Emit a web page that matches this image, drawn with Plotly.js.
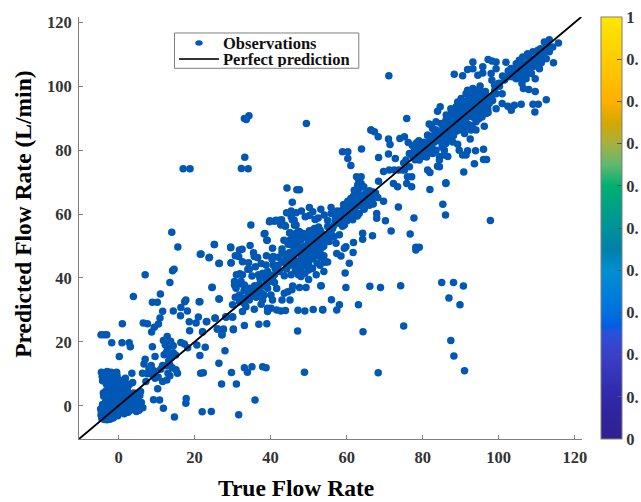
<!DOCTYPE html>
<html>
<head>
<meta charset="utf-8">
<script src="https://cdn.plot.ly/plotly-3.0.1.min.js"></script>
<style>html,body{margin:0;padding:0;background:#fff;overflow:hidden}#chart{width:641px;height:502px}</style>
</head>
<body>
<div id="chart"></div>
<script>
// [true, predicted] pairs
var lowCluster = [[-4.5,10.5],[-4.3,9.2],[-3,10.7],[-2.6,9.5],[-2,10.5],[-1.5,9],[-0.5,10.5],[-0.4,9.4],[-3,8],[-2,7.5],[-1,6.8],[-0.6,8],[0.5,8],[1.2,7.5],[2,7],[-3.2,6.8],
[-4,4],[-3,3.5],[-2.5,4.2],[-1.5,3.5],[-0.8,4.1],[0.8,5],[1.5,4],[2.5,4],[3,3.2],[4,4],[5.8,4.5],[5.6,3.2],[-2,3],[-1,2.5],[0,3],[1,2.5],[2,2],[3.5,2],[5,2],[6,1],[5,0.5],[6.4,-0.6],
[-4.2,0.4],[-3.5,0],[-2.5,0.5],[-1.5,1],[-1,0],[-0.3,0.5],[0.5,0.5],[1.5,0.3],[2.5,0.5],[3.5,0],[4.5,-1],[3,-1.5],[1.5,-1.5],[0.5,-1.5],[-0.5,-1.5],
[-4.7,-1],[-4.5,-2],[-4.6,-3],[-4.4,-4],[-3.7,-4.3],[-3,-4.4],[-2.2,-4.2],[-1.4,-3.8],[-0.8,-3],[-3.8,-3.2],[-3,-3],[-2.2,-3],[-1.5,-2.5],[-3.8,-2],[-3,-1.8],[-2.2,-1.7],[-1.2,-1.2],[-3.7,-1],[-2.8,-0.7],[-1.8,-0.5],[0,-2.3],[1.5,-2.5],[2.5,-2],[4.7,-1.8],
[-2.8,2],[-1.8,2],[-3.4,1.2],[-0.3,1.8],[1,1.2],[2.8,1.2],[4.2,1],[-1,5.5],[0,5],[-2,5.8],[2.3,5.5],
[-3.6,9.8],[-1.2,10.2],[-2.2,8.6],[-3.5,7.6],[-1.6,6.2],[0.2,6.6],[1.8,8.6],[-2.7,5.2],[-0.4,3.4],[0.4,4.2],[1.4,2.9],[2.3,3.1],[3.4,3.6],[4.7,3],[-1.3,1.6],[0.2,1.4],[1.9,1],[3.4,0.8],[4.4,0.2],[-0.5,-0.6],[1,-0.6],[2.2,-0.7],[3.7,-0.9],[-0.2,-3.1],[0.9,-2],[5.4,-1.4],[-3.3,4.7],[-3.9,3],[2.8,6.6],[0.9,6.3],[-4.2,7.8],[-1.1,4.6],[-2.1,1.1]];
var lowSparse = [[3.9,34.2],[7,41],[11,35],[13.5,38.6],[14.2,42.3],[14.6,42.7],[21.5,47.4],[23.8,46.3],[26.4,44.5],[29.6,44.7],[24.6,37],[21.2,32.6],[26.4,33.4],[17.7,33.1],[17.4,32.6],[8.9,32.4],[10.2,32.4],[11.6,29.6],[14.4,29.7],[16.4,30.8],[16.3,28.2],[18.1,29.7],[10.9,27.5],[21,27.8],[25.4,27.4],[28.2,27.9],[30,27.9],[1,25.7],[6.5,25.9],[7.6,25.7],[10.5,25.6],[9.4,24.6],[8.7,23.1],[18.6,26.3],[20.4,25.9],[23.1,26.3],[18.7,23.5],[22.1,23.1],[26,24],[27.5,23.8],[27.2,22.2],[30.2,23.8],[-4.6,22.2],[-3.8,22.2],[-3.1,22.2],[-1.8,19.7],[0.9,19.7],[2.8,19.7],[3.1,18.5],[8.9,18.5],[0.2,15.4],[9.6,15.4],[11.8,20.4],[12.8,21.7],[12.3,19.1],[12.9,18],[12.7,17],[13.3,15.9],[13.8,15.2],[14.4,18.8],[15,15.9],[16.4,19.8],[17.3,19.3],[18.2,18.2],[20.6,19],[22.8,18.3],[21.4,15.7],[28,17.2],[7,14.6],[6.7,13.1],[8.6,12.6],[11.6,12.6],[12.5,12.5],[13.5,12.8],[26.4,13.3],[33.1,11.9],[33.9,10.5],[35.1,12.2],[37.9,12.2],[38.8,11.9],[48.9,10.5],[29.7,10.4],[21.6,10.2],[22.3,10.3],[27.1,6.8],[31,6.8],[15.1,11.3],[15.5,10.2],[13.5,9.4],[11.6,7.6],[12.7,8.1],[9.6,8.6],[10.3,5.3],[6.3,10.2],[7.6,10],[8.9,9.7],[7.2,7.6],[3.5,10.2],[3.7,7.3],[9.2,1.9],[10.8,1.8],[11.8,-0.8],[17.8,2.3],[17.7,0.8],[14.7,-3.5],[22,-1.9],[24.4,-1.8],[31.6,-2.8],[35.9,1.8],
[8,11.5],[9.3,11],[10.4,9],[11.1,11.4],[13,10.2],[14.1,11.9],[13.2,14],[14.4,16.6],[12,16],[13.7,20.2]];
var midCluster = [[39.7,57.6],[41,57.8],[42.3,58.1],[44.2,60.4],[46.7,60.4],[49.1,59.2],[51.1,60.7],[51.7,58.3],[45.4,59.2],[46.2,58.1],[46.7,56.6],[42.7,56.6],[43.9,56.2],[51.5,55.5],[38.3,53.8],[39,51.8],[45.1,54.2],[50.2,54.8],[47.6,54.5],[46.7,54],[25.2,50.5],[29.5,49.5],[34.6,50.2],[32.5,49],[31.8,48.75],[30.7,47],[40.5,49.3],[43,49.1],[45.6,50.3],[21.7,47.5],[23.9,46.5],[26.5,44.6],[29.6,44.8],[31.6,46.7],[32.6,45.1],[34.2,44.8],[35.5,47.9],[36.6,46.4],[35.7,46.7],[34,42.7],[31.9,41.3],[31,41],[32.6,41],[34.4,42.7],[38.8,44.1],[40.7,46.7],[40.4,45.8],[39.2,42],[37.9,41.5],[36.8,41],[35.1,40.6],[40.7,44.1],[41.2,43],[39.7,41],[38.3,39.9],[37.2,39.9],[30.5,38.9],[30.5,37.8],[32.2,39],[32.2,38.1],[33.1,37.8],[24.6,37.1],[30.9,36.8],[34.4,36.8],[35.7,36.3],[36.6,37.5],[38.3,37.5],[39.2,36.8],[41.6,36.7],[45.8,37.5],[47.6,37],[49.3,37],[53.3,37.6],[44.5,35.7],[45.6,36.3],[43.6,35.2],[43,33.1],[45.1,33.1],[40.5,33.1],[38.3,34.7],[40.1,34.7],[37.9,33.1],[26.5,33.4],[21.4,32.6],[30.7,34],[31.8,34.7],[32.6,33.7],[33.9,33.7],[34.8,34.7],[36.2,34],[31.8,32.6],[33.1,32],[34.4,33.1],[35.7,30.2],[30,31.6],[32.6,29.5],[33.5,31],[39.2,30.5],[40.1,30.5],[39.2,29.5],[41.6,30],[42.7,29.7],[43.9,29.8],[47.2,29.9],[49,29.7],[51.2,30.1],[53.7,30.1],[37.5,31.8],[30,27.7],[28.3,27.7],[33.1,25.1],[36.9,25.5],[39,25.7],[47.1,23.4],[30.2,24],[25.4,27.5],[23.2,26.4],[27.6,24],[26,24],[27.2,22.2],[22.1,23.2],
[46,47],[47,48],[48,49],[49,50],[50,51],[51,52],[52,53],[46,50],[47,51],[48,52],[49,53],[50,54],[51,54.5],[47,45],[48,46],[49,47],[50,48],[51,49],[52,50],[53,51],[45,48],[44,46],[43,45],[44,44.5],[45,44],[46,44],[47,43],[48,43],[49,44],[50,45],[51,46],[52,47],[53,48],[54,50],[54,47],[49,41.5],[50,42.5],[48,40.5],[50,39.5],[52,41],[54,42],[53,44],[51,43],[47.3,41],[43,48],[42,46.5],[42,44],[55,45],[55,53],[53,55],[41,41],[40,39],[37,38],[35,35.5],[33,33],[37,36],[39,39],
[14,54.3],[15.6,49.7],[25.2,50.5],[29.5,49.7],[34.8,56.6],[17,74.2],[18.8,74.2],[32.3,74.3],[34.1,74.2],[33.2,77.8],[33.1,89.9],[33.6,89.6],[34.3,90.8],[49.4,88.4],[44.3,68.2],[46.9,67.6],[47.6,67.6],[45.7,63.7],[50.2,62.1],[45.4,61],[48.1,61],[50.2,59.6],[52.5,58.8],[52.6,56],[39.8,57.9],[41.4,58.1],[42.9,58.2],[42.6,57],[43.7,56.5],[38.5,53.9],[39.1,51.8],[43.5,51.8],[45.7,58.2],[46.3,56.5],[45,54.1],[47.3,54.6],[50.4,54.6],
[45.3,46.2],[46.5,48.6],[47.6,49.8],[48.4,47.6],[49.6,49.4],[50.6,49.9],[51.6,50.6],[52.6,51.8],[46.2,52.4],[47.4,53],[48.6,53.9],[49.7,52.4],[50.8,53.1],[52.4,54.5],[44.6,50.6],[45.2,52],[43.8,47.4],[44.7,45.4],[46.3,45.5],[47.6,44.1],[49.2,45.6],[50.4,46.7],[51.5,47.8],[52.7,49],[53.6,49.6],[46.5,42.3],[48.3,44.8],[50.1,43.7],[52.2,44.7],[54.3,44.9],[53.4,46.3],[44.2,42.8],[42.4,42],[40.5,40.2],[43.6,40.7],[45.4,41],[35.8,37.6],[36.4,35],[34,35.5],[33,36],[37.6,35.2],[38.8,37.9],[41,38.6],[38.9,47],[36,43.5],[37.5,44.5]];
var upperMidCluster = [[66.4,86.3],[67.3,85.8],[68.3,84.2],[71,83.5],[71.4,81.8],[74,83.7],[75.2,84.2],[76.2,82.4],[63.9,80.4],[58.9,79.5],[60.3,79.5],[60.3,77.4],[61.1,75.2],[68.4,77.7],[71,78.8],[72.8,77.4],[69.7,73.3],[71.2,73.8],[72.5,73.8],[73.7,73.8],[74.7,73.8],[68.4,70.3],[62.6,71.7],[63.8,71.7],[63.8,69.6],[62.9,69.1],[62,67.5],[63.3,68],[62.9,66.5],[64.2,66],[66,67.3],[66.8,67],[67.3,65.4],[68.2,65.2],[66,65],[65.1,63.9],[61.1,64.9],[62,64.4],[63.3,64.4],[60.7,62.8],[62.4,62.8],[63.8,62.5],[66,62.8],[59.8,61.8],[58.9,61.3],[61.6,61.3],[63.3,60.2],[59.8,59.7],[58.1,60.2],[61.1,59.7],[55.9,62.1],[53.2,61.5],[55.9,60.2],[54.1,59.7],[57.2,59.2],[58.9,58.7],[60.7,59.2],[61.6,58.2],[58.1,57.1],[59.4,56.6],[69.7,64],[73.6,62.2],[67.9,60.2],[67.9,58.7],[70.2,57.9],[77.7,58.8],[71.7,54.7],[76.7,53.8],[66.8,53.2],[64.2,54],[64.2,52.1],[61.8,51.1],[59.8,49.8],[78.2,49.6],[79.1,49.6],[72.3,69.6],[73.4,68.6],[75.8,69.6],[77.1,71.7],[76,71.7],[77.1,68.6],[81.9,67.7],[86.1,69.6],[85.3,63.1],[86,59.7],[81.3,73.8],[81.9,73],[76.5,74.8],[75.2,73.8],[75.6,76.9],[76.5,79],[77.8,80],[78.7,80.5],[79.6,81],[77.4,78],[79.1,79],[79.1,76.9],[80.9,79.5],[82.6,79],[80,78],[81.7,80.5],[83.1,82.6],[81.3,84.7],[82.2,87.8],[84.4,85.2],[83.9,83.2],[83.5,80],[84.4,76.9],[84.4,74.8],[86.1,82.1],[85.7,78.5],[84.8,83.7],[54.6,53.5],[55.9,54],[56.7,52.9],[58.1,53.5],[55.4,51.4],[57.2,50.9],[59.4,49.3],[53.7,50.9],[54.1,52.4],[56.3,55.5],[55,56.1],[53.2,54.5],[55,58],[57,57.5],[59.5,60.5],[60.5,61],[62,60.5],[64.5,63.5],[65,65.5],[61,63],[63,65.5],[66.5,66],[78,77],[80.5,80.5],[82,83],[78,79],[75,76],
[57,58.4],[58.6,59.4],[60,60.6],[60.9,62],[62.2,61.6],[62.9,63.7],[64.1,64.9],[65,62.6],[65.2,66.8],[61.8,65.7],[60.3,64],[59.2,63],[57.5,61],[56.6,56.4],[58.9,56.2],[60.1,57.9],[62.8,59.4],[64.6,61.5],[66.6,64.1],[67,63.2],[64.5,68.6],[63.2,70.5],[67.6,66.6],[80.4,82.5],[81.2,81.6],[82.4,81.2],[83,84.8],[79,83],[77.3,81.5],[78.4,82.3],[83.7,85.6],[85.1,81],[79.9,79.8],[81,77.9]];
var highCluster = [[71.1,103.3],[75.8,89.9],[66.4,86.3],[112.5,95.8],[114.4,107.4],[115.7,113.6],[113.3,114.6],[112,113.9],[114.2,112.3],[112.5,112.8],[110.3,111.3],[111.6,109.2],[113.3,110.8],[107.6,110.2],[109,110.8],[106.3,109.2],[105.4,108.2],[104.6,107.1],[103.2,105.6],[104.1,104.5],[105.4,106.1],[107.2,107.1],[108.5,107.6],[109.8,108.7],[110.7,105.5],[109,106.1],[107.2,104.5],[105.4,103.5],[109.6,102.4],[107.2,102.4],[104.6,102.4],[106.1,100.9],[106.5,99.3],[107.9,99],[109.6,98.4],[101.9,107.5],[101,103.2],[99.3,105.5],[97.2,108.4],[98.2,107.9],[99.3,107.6],[95.8,106.1],[93.2,107.6],[91.8,105.3],[93.2,105.5],[94.5,103.5],[95.8,104.2],[88.3,103.8],[90.5,103.3],[98,104],[98.2,101.9],[98.9,100.3],[100.2,100],[99.3,97.7],[100.9,97.7],[98.4,95.6],[99.3,93],[100.9,94.6],[102.4,93.8],[103.3,92.5],[104.1,94.1],[105.9,94.4],[109,94.4],[110.4,94.4],[109.5,92],[96.2,87.5],[96.7,91.5],[94,86.3],[92.7,86.3],[92.5,83.5],[87.9,82.6],[89.2,81.9],[89.6,80],[90.5,78.5],[91.8,79.8],[93.9,79.8],[96,80.3],[91.4,78.5],[96,77.1],[96.8,77.1],[93.6,75.8],[90.8,73.2],[86.1,69.8],[84.6,93.6],[83.9,92.2],[81.7,88.2],[81.3,84.7],[84.4,78],[83.9,75],[86.6,78],[85.7,80],[91.8,98.8],[93.2,99.3],[95.1,100.1],[91.4,97.7],[89.2,95.1],[88.3,92.5],[87.4,90.4],[86.1,89.4],[84.8,88.4],[83.5,86.3],[94,98.8],[95.8,97.7],[96.7,96.7],[93.2,96.2],[90.1,94.1],[91.4,94.6],[94.9,94.6],[92.3,92.5],[94,93.6],[90.5,91.5],[89.2,89.9],[87.9,88.4],[86.6,86.8],[91.4,89.9],[93.2,90.4],[94.9,91],[89.6,87.8],[87.9,85.8],[91.4,87.3],[94,88.9],[95.8,93],[97.5,94.6],[97.1,93],[88.8,93.6],[90.1,96.2],[92.7,98.2],[94.9,96.7],[96.7,95.1],[91.4,92],[87.4,93],[88.8,91],[86.6,88.4],[85.3,86.8],[84.8,85.2],[83.1,84.2],[82.6,86.8],[83.5,88.9],[85.7,84.2],[87,84.7],[85.7,82.1],[88.8,86.8],[90.1,89.9],[92.7,93.6],[94,95.1],[91.8,95.6],[90.5,93],[95.8,95.1],[98,96.7],
[108,109],[106.5,107],[103,103.5],[102.5,104.8],[101.5,102],[110,109.5],[111,110],[108,108],[106,105.5],[104.5,105.5],[109,108.5],[112.5,111],
[86,85.4],[87,86],[88,87.2],[89,88.4],[90,88.6],[91,89],[92,90.6],[93,91.6],[94,91.9],[95,92.6],[96,93.8],[87.1,87.6],[88.3,89.4],[89.4,91.2],[90.4,92.4],[91.5,93.3],[92.6,94.8],[93.6,97.2],[95.2,98.4],[86.2,91],[87.6,91.8],[89.8,92.8],[90.6,95.3],[92.4,96.8],[88.1,84.6],[89,86],[90.2,86.4],[91,85.2],[92.2,88],[93,87.6],[94.7,89.8],[95.6,90.4],[96.3,92],[97.2,91.8],[86.8,83.4],[84.6,82.8],[83.6,83.4],[88.4,90.2],[90.9,88],[92,92],[93.5,93],[90,90.5],[85.6,85.6],[86.5,85],[96.5,98.4],[97.4,96],[98.9,98.6],[100,101],[102.6,103],[105.7,104.8],[106.8,105.8],[108.2,106.2],[103.6,103],[106,102.6],[111.2,107.4],[108.6,104],[107,103.2],[112.5,108.6],[110,107],[111,111.8]];
var lowerRight = [[57.4,47.7],[58.5,46.9],[61.7,48],[54.2,45.3],[60.7,44.6],[59.6,41.6],[53.2,37.6],[59.8,37],[66.1,37.4],[68.9,37],[74.2,37.6],[85,38.6],[88.1,38.6],[90.7,37.5],[86.9,33.7],[89.8,31.6],[56,33.2],[58.1,31.6],[63.1,31.6],[53.7,30],[57.4,30],[64.3,23.2],[75,25],[87.4,20.4],[88.2,15.6],[68.3,10.3],[91,11],[78.2,48.75],[97.8,58]];

var observations = [].concat(lowCluster, lowSparse, midCluster, upperMidCluster, highCluster, lowerRight);
var trueFlow = observations.map(function(p){return p[0];});
var predictedFlow = observations.map(function(p){return p[1];});

var perfectX = [-10.4, 121.7];
var perfectY = [-10.4, 121.7];
var axisTicks = [0,20,40,60,80,100,120];
var barTicks = [0,0.1,0.2,0.3,0.4,0.5,0.6,0.7,0.8,0.9,1];
var barTickText = ['0','0.','0.','0.','0.','0.','0.','0.','0.','0.','1'];
var barScale = [[0,'#30208f'],[0.1,'#3028a8'],[0.2,'#3a40c8'],[0.25,'#2a50d8'],[0.27,'#0060e0'],[0.3,'#0070e0'],[0.4,'#0090d0'],[0.45,'#0080a8'],[0.5,'#00929a'],[0.6,'#00b070'],[0.65,'#60b870'],[0.7,'#a8b040'],[0.75,'#d4a800'],[0.8,'#ffb000'],[0.9,'#ffcc00'],[1,'#ffe800']];

var serif = '"Liberation Serif","Times New Roman",serif';
var tickFont = {family: serif, size: 16.5, color: '#333333', weight: 700};
var titleFont = {family: serif, size: 23.5, color: '#000000', weight: 700};
var legendFont = {family: serif, size: 16.5, color: '#111111', weight: 700};

var plotL = 79, plotW = 503, plotB = 439.3, plotH = 422.3;
function px(v){return (v-plotL)/plotW;}
function py(v){return (plotB-v)/plotH;}

var traces = [
 {type:'scatter', mode:'markers', name:'Observations', x:trueFlow, y:predictedFlow,
  marker:{size:7.5, color:'#0058b4', line:{width:0}}},
 {type:'scatter', mode:'lines', name:'Perfect prediction', x:perfectX, y:perfectY,
  line:{color:'#000000', width:1.8}},
 {type:'scatter', mode:'markers', x:[null], y:[null], showlegend:false, hoverinfo:'skip',
  marker:{color:[0], cmin:0, cmax:1, colorscale:barScale, showscale:true, size:1,
   colorbar:{x:1.0378, xanchor:'left', xpad:0, y:0, yanchor:'bottom', ypad:0,
    lenmode:'pixels', len:422, thicknessmode:'pixels', thickness:21,
    outlinecolor:'#7f7f7f', outlinewidth:1, borderwidth:0,
    tickmode:'array', tickvals:barTicks, ticktext:barTickText,
    ticks:'inside', ticklen:5, tickcolor:'#555555', tickwidth:1,
    tickfont:tickFont}}}
];
function ann(text,x,y,font,opts){
 return Object.assign({text:text, xref:'paper', yref:'paper', x:px(x), y:py(y), showarrow:false, font:font, xanchor:'left', yanchor:'middle', borderpad:0, borderwidth:0}, opts||{});
}
var layout = {
 width:641, height:502, paper_bgcolor:'#ffffff', plot_bgcolor:'#ffffff',
 margin:{l:79, r:59, t:17, b:62.7, autoexpand:false},
 showlegend:false,
 xaxis:{range:[-10.4,121.9], tickmode:'array', tickvals:axisTicks, ticks:'inside', ticklen:4,
  tickcolor:'#7f7f7f', showgrid:false, zeroline:false, showline:true, linecolor:'#7f7f7f', linewidth:1,
  tickfont:tickFont, ticklabelstandoff:3},
 yaxis:{range:[-10.4,121.7], tickmode:'array', tickvals:axisTicks, ticks:'inside', ticklen:4,
  tickcolor:'#7f7f7f', showgrid:false, zeroline:false, showline:true, linecolor:'#7f7f7f', linewidth:1,
  tickfont:tickFont, ticklabelstandoff:3},
 shapes:[
  {type:'rect', xref:'paper', yref:'paper', x0:px(174.5), x1:px(358.8), y0:py(68.3), y1:py(33), fillcolor:'#ffffff', line:{color:'#7f7f7f', width:1}},
  {type:'line', xref:'paper', yref:'paper', x0:px(179), x1:px(219), y0:py(59), y1:py(59), line:{color:'#333333', width:2}},
  {type:'circle', xref:'paper', yref:'paper', x0:px(195.3), x1:px(202.7), y0:py(45.8), y1:py(40.2), fillcolor:'#0058b4', line:{width:0}}
 ],
 annotations:[
  ann('Observations',223,43,legendFont,{height:16}),
  ann('Perfect prediction',223,59.5,legendFont,{height:16}),
  ann('True Flow Rate',296,488.5,titleFont,{xanchor:'center', height:24}),
  ann('Predicted Flow Rate (L/min)',23,215,titleFont,{xanchor:'center', textangle:-90})
 ]
};
Plotly.newPlot('chart', traces, layout, {displayModeBar:false, responsive:false});
</script>
</body>
</html>
